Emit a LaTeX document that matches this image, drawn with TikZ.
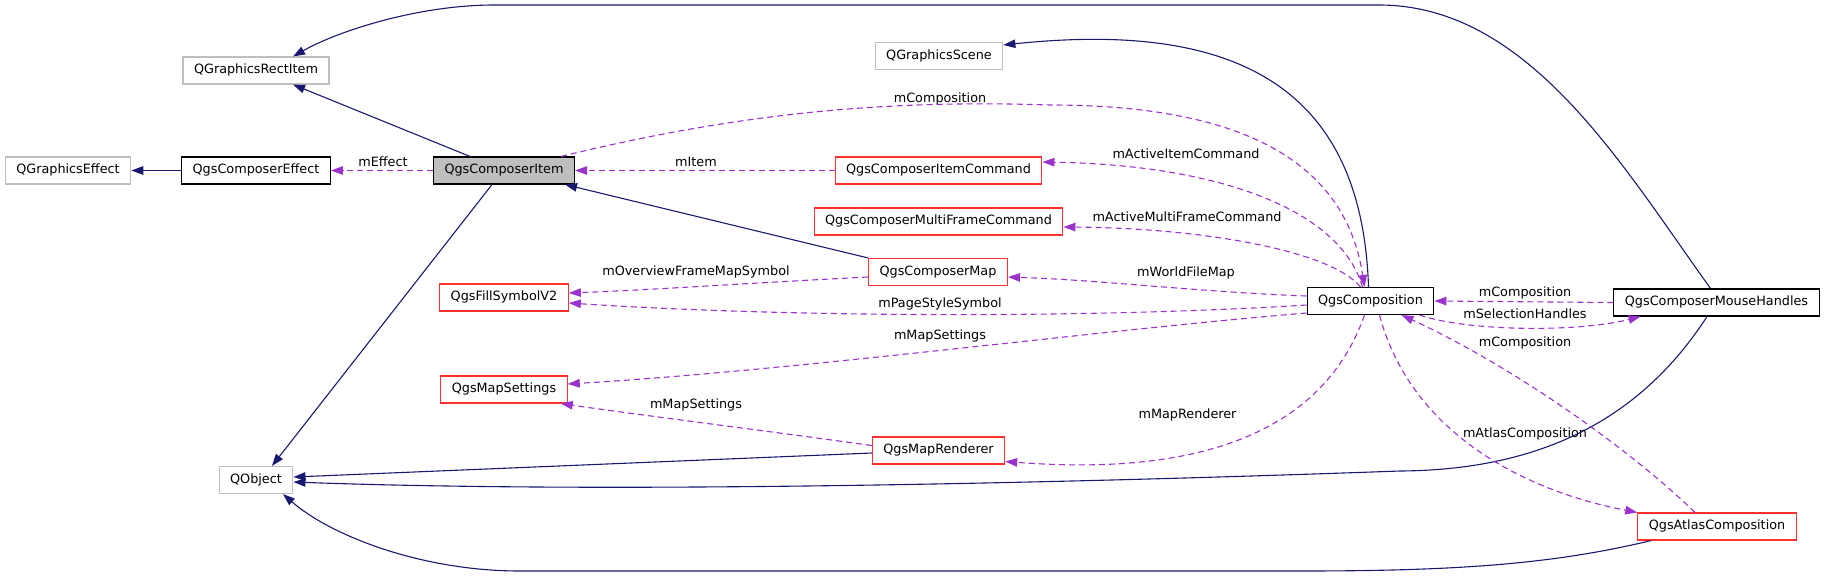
\documentclass[tikz,border=0pt]{standalone}
\usepackage{fontspec}
\setmainfont{DejaVu Sans}
\usetikzlibrary{arrows.meta}
\definecolor{edgeblue}{HTML}{191970}
\definecolor{edgepurple}{HTML}{9A32CD}
\definecolor{boxgrey}{HTML}{BFBFBF}
\definecolor{boxred}{HTML}{FF3030}
\tikzset{
  box/.style={draw, line width=1.1pt, minimum height=27pt, inner xsep=11pt, inner ysep=0pt, text height=9.6pt, text depth=3pt, font=\fontsize{12.8}{15}\selectfont},
  extbox/.style={box, draw=boxgrey},
  docbox/.style={box, draw=black},
  redbox/.style={box, draw=boxred},
  lbl/.style={inner sep=0pt, text height=9.6pt, text depth=3pt, font=\fontsize{12.8}{15}\selectfont},
  inherit/.style={draw=edgeblue, line width=1.1pt, -{Triangle[length=12pt,width=8.5pt]}},
  member/.style={draw=edgepurple, line width=1.1pt, dash pattern=on 6pt off 4pt, -{Triangle[length=12pt,width=8.5pt]}}
}
\begin{document}
\begin{tikzpicture}[x=1pt,y=-1pt]
\useasboundingbox (0,0) rectangle (1827,576);
\foreach \n/\x/\y/\t in {rect/256/70.5/QGraphicsRectItem, scene/939/56/QGraphicsScene, effect/68/170.5/QGraphicsEffect, qobj/256/480/QObject}
  \node[extbox] (\n) at (\x,\y) {\t};
\foreach \n/\x/\y/\t in {ceffect/256/170.5/QgsComposerEffect, comp/1370.5/301/QgsComposition, mouse/1716.5/302.5/QgsComposerMouseHandles}
  \node[docbox] (\n) at (\x,\y) {\t};
\node[docbox, fill=boxgrey] (item) at (504,170.5) {QgsComposerItem};
\foreach \n/\x/\y/\t in {itemcmd/938.5/170.5/QgsComposerItemCommand, mfcmd/938.5/221.5/QgsComposerMultiFrameCommand, cmap/938/272/QgsComposerMap, fillsym/504/297.5/QgsFillSymbolV2, mset/504/389.5/QgsMapSettings, renderer/938.5/450.5/QgsMapRenderer, atlas/1717/526.5/QgsAtlasComposition}
  \node[redbox] (\n) at (\x,\y) {\t};
\foreach \n/\x/\y/\t in {lEffect/383/163/mEffect, lItem/696/163/mItem, lComp/940/99/mComposition, lActItem/1186/155/mActiveItemCommand, lActMF/1187/218/mActiveMultiFrameCommand, lOverview/696/272/mOverviewFrameMapSymbol, lWorld/1186/273/mWorldFileMap, lPage/940/304/mPageStyleSymbol, lSetA/940/336/mMapSettings, lSetB/696/405/mMapSettings, lRend/1187.5/415/mMapRenderer, lCompA/1525/293/mComposition, lSel/1525/315/mSelectionHandles, lCompB/1525/343/mComposition, lAtlas/1525/434/mAtlasComposition}
  \node[lbl] (\n) at (\x,\y) {\t};
\draw[inherit] (ceffect) -- (effect);
\draw[member] (item) -- (ceffect);
\draw[member] (itemcmd) -- (item);
\draw[inherit] ([xshift=-34pt]item.north) -- ([xshift=37pt]rect.south);
\draw[inherit] ([xshift=-6pt]mouse.north) .. controls (1623,167) and (1529,5) .. (1379,5) -- (494,5) .. controls (420,5) and (340,30) .. ([xshift=37pt]rect.north);
\draw[inherit] ([xshift=-2pt]comp.north) .. controls (1362,90) and (1240,20) .. ([yshift=11pt]scene.east);
\draw[member] ([xshift=57pt]item.north) .. controls (750,110) and (900,100) .. (1050,105) .. controls (1240,105) and (1345,160) .. ([xshift=-6pt]comp.north);
\draw[member] ([xshift=-8pt]comp.north) .. controls (1340,210) and (1220,165) .. ([yshift=8.5pt]itemcmd.east);
\draw[member] ([xshift=-10pt]comp.north) .. controls (1330,250) and (1200,228) .. ([yshift=-5.5pt]mfcmd.east);
\draw[inherit] (cmap.north west) -- ([xshift=-10pt]item.south east);
\draw[member] ([yshift=5pt]comp.west) .. controls (1200,292) and (1100,280) .. ([yshift=-5pt]cmap.east);
\draw[member] ([yshift=-5pt]cmap.west) .. controls (750,283) and (650,290) .. ([yshift=4.5pt]fillsym.east);
\draw[member] ([yshift=-4pt]comp.west) .. controls (1100,318) and (800,318) .. ([yshift=-5.5pt]fillsym.east);
\draw[member] ([yshift=-12pt]comp.west) .. controls (1100,330) and (800,370) .. ([yshift=5.5pt]mset.east);
\draw[member] ([yshift=5pt]renderer.west) .. controls (760,430) and (640,415) .. ([xshift=-7pt]mset.south east);
\draw[member] ([xshift=-6pt]comp.south) .. controls (1310,470) and (1120,470) .. ([yshift=-11pt]renderer.east);
\draw[inherit] ([xshift=-12pt]item.south) -- ([xshift=16pt]qobj.north);
\draw[inherit] ([yshift=-2.5pt]renderer.west) -- ([yshift=3pt]qobj.east);
\draw[inherit] ([xshift=-9.5pt]mouse.south) .. controls (1640,420) and (1540,470) .. (1400,471) .. controls (1150,480) and (650,495) .. ([yshift=-2pt]qobj.east);
\draw[inherit] ([xshift=-66pt]atlas.south) .. controls (1550,565) and (1450,571) .. (1300,571) -- (520,571) .. controls (420,571) and (330,535) .. ([xshift=27pt]qobj.south);
\draw[member] (mouse.west) -- (comp.east);
\draw[member] ([xshift=49pt]comp.south) .. controls (1470,332) and (1580,332) .. ([xshift=-76pt]mouse.south);
\draw[member] ([xshift=-22pt]atlas.north) .. controls (1620,440) and (1500,360) .. ([xshift=31pt]comp.south);
\draw[member] ([xshift=9pt]comp.south) .. controls (1410,430) and (1520,490) .. (atlas.north west);
\end{tikzpicture}
\end{document}
